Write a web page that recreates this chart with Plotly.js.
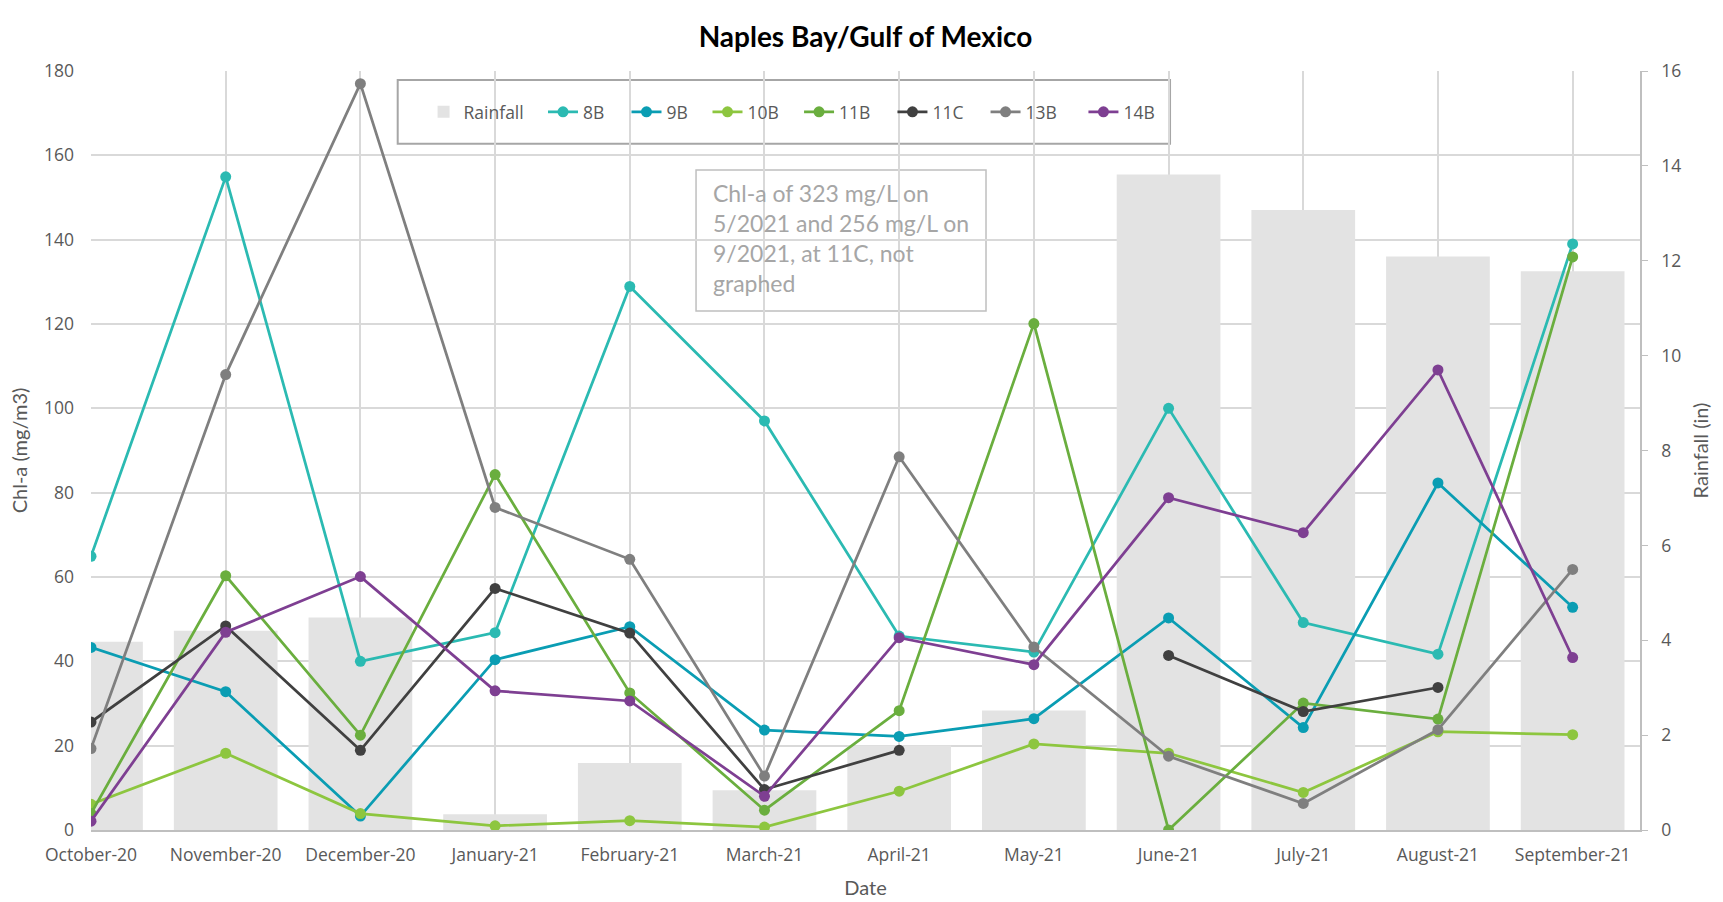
<!DOCTYPE html>
<html>
<head>
<meta charset="utf-8">
<script src="https://cdn.plot.ly/plotly-3.0.1.min.js"></script>
<style>html,body{margin:0;padding:0;background:#fff;}#chart{width:1723px;height:902px;}</style>
</head>
<body>
<div id="chart"></div>
<script>
const months = ["October-20","November-20","December-20","January-21","February-21","March-21","April-21","May-21","June-21","July-21","August-21","September-21"];
const rainfall = [3.97, 4.2, 4.48, 0.33, 1.41, 0.84, 1.78, 2.52, 13.82, 13.07, 12.09, 11.78];
const s8B  = [64.9, 154.9, 40.0, 46.8, 128.9, 97.0, 46.0, 42.2, 100.0, 49.2, 41.7, 139.0];
const s9B  = [43.3, 32.8, 3.3, 40.4, 48.2, 23.7, 22.2, 26.4, 50.3, 24.3, 82.3, 52.8];
const s10B = [6.1, 18.2, 3.9, 1.0, 2.2, 0.7, 9.2, 20.4, 18.2, 8.9, 23.3, 22.6];
const s11B = [3.9, 60.3, 22.5, 84.3, 32.5, 4.7, 28.3, 120.1, 0.0, 30.1, 26.3, 135.9];
const s11C = [25.6, 48.4, 18.9, 57.3, 46.7, 9.6, 18.9, null, 41.4, 28.1, 33.8, null];
const s13B = [19.3, 108.0, 177.0, 76.5, 64.2, 12.8, 88.5, 43.4, 17.5, 6.3, 23.8, 61.8];
const s14B = [2.1, 46.9, 60.1, 33.0, 30.6, 8.0, 45.6, 39.2, 78.8, 70.5, 109.1, 40.9];

const seriesNames = ["8B","9B","10B","11B","11C","13B","14B"];
const seriesData = [s8B, s9B, s10B, s11B, s11C, s13B, s14B];
const seriesColors = ["#2BBAB2","#0A9DB3","#8DC63F","#6AAE3E","#404040","#7F7F7F","#7E3F92"];

// legend slot positions (paper x) for each legend entry
const legendX = [0.2147, 0.2918, 0.3457, 0.3980, 0.4571, 0.5174, 0.5775, 0.6407];
const legendIds = ["legend","legend2","legend3","legend4","legend5","legend6","legend7","legend8"];

const traces = [{
  type: "bar", name: "Rainfall", x: months, y: rainfall,
  xaxis: "x", yaxis: "y", legend: legendIds[0],
  marker: {color: "#E3E3E3"}, width: 0.77
}];
seriesNames.forEach((n, i) => {
  traces.push({
    type: "scatter", mode: "lines+markers", name: n,
    x: months, y: seriesData[i], xaxis: "x", yaxis: "y2",
    legend: legendIds[i + 1],
    connectgaps: false,
    line: {color: seriesColors[i], width: 2.75},
    marker: {color: seriesColors[i], size: 11}
  });
});

const tickFont = {family: "Open Sans, sans-serif", size: 17.5, color: "#595959"};
const titleFont = {family: "Lato, sans-serif", size: 20, color: "#595959"};
const layout = {
  width: 1723, height: 902,
  paper_bgcolor: "#fff", plot_bgcolor: "#fff",
  margin: {l: 91, r: 83, t: 71, b: 72},
  title: {text: "Naples Bay/Gulf of Mexico", x: 0.5, xref: "paper", y: 0.959, yanchor: "middle",
          font: {family: "Lato, sans-serif", size: 28, color: "#000", weight: "bold"}},
  showlegend: true,
  xaxis: {type: "category", range: [0, 11.5], showgrid: true, gridcolor: "#D9D9D9", gridwidth: 1.5,
          showline: true, linecolor: "#BFBFBF", linewidth: 1.5, ticks: "", zeroline: false,
          tickfont: tickFont, ticklabelstandoff: 8,
          title: {text: "Date", font: titleFont, standoff: 16}},
  yaxis: {side: "right", range: [0, 16], dtick: 2, showgrid: false, zeroline: false,
          showline: true, linecolor: "#BFBFBF", linewidth: 1.5, ticks: "outside", ticklen: 6, tickcolor: "#BFBFBF",
          tickfont: tickFont, ticklabelstandoff: 10,
          title: {text: "Rainfall (in)", font: titleFont, standoff: 14}},
  yaxis2: {overlaying: "y", side: "left", range: [0, 180], dtick: 20, showgrid: true,
           gridcolor: "#D9D9D9", gridwidth: 1.5, zeroline: false, showline: false, ticks: "",
           tickfont: tickFont, ticklabelstandoff: 16,
           title: {text: "Chl-a (mg/m3)", font: titleFont, standoff: 10}},
  shapes: [
    {type: "rect", xref: "paper", yref: "paper", x0: 0.198, x1: 0.6966, y0: 0.904, y1: 0.988,
     line: {color: "#A6A6A6", width: 2}, fillcolor: "#fff", layer: "between"},
    {type: "rect", xref: "paper", yref: "paper", x0: 0.3906, x1: 0.5778, y0: 0.6838, y1: 0.8696,
     line: {color: "#BFBFBF", width: 1.5}, fillcolor: "#fff", layer: "between"}
  ],
  annotations: [{
    xref: "paper", yref: "paper", x: 0.4003, y: 0.860, xanchor: "left", yanchor: "top", align: "left",
    showarrow: false,
    text: "Chl-a of 323 mg/L on<br>5/2021 and 256 mg/L on<br>9/2021, at 11C, not<br>graphed",
    font: {family: "Lato, sans-serif", size: 23, color: "#A6A6A6"}
  }]
};
legendIds.forEach((id, i) => {
  layout[id] = {orientation: "h", x: legendX[i], xanchor: "left", y: 0.946, yanchor: "middle",
                bgcolor: "rgba(0,0,0,0)", borderwidth: 0,
                font: {family: "Open Sans, sans-serif", size: 17.5, color: "#595959"}};
});
Plotly.newPlot("chart", traces, layout, {displayModeBar: false});
</script>
</body>
</html>
